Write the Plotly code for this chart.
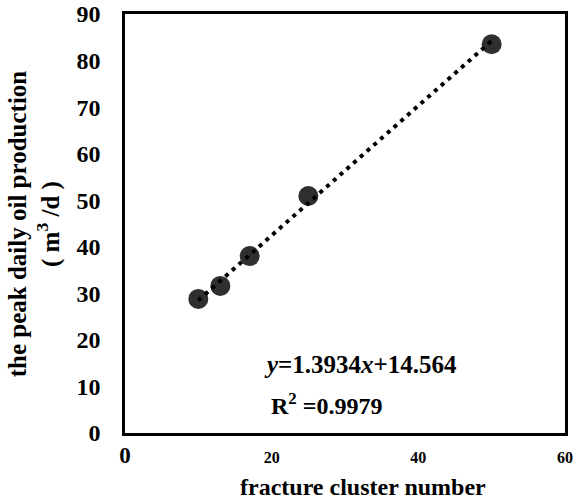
import numpy as np
import plotly.graph_objects as go

# Fracture cluster number vs. peak daily oil production
cluster_number = [10, 13, 17, 25, 50]
peak_oil = [28.8, 31.6, 38.0, 50.9, 83.5]

# Linear fit reported on the chart
SLOPE = 1.3934
INTERCEPT = 14.564
R2 = 0.9979

x_ticks = [0, 20, 40, 60]
y_ticks = [0, 10, 20, 30, 40, 50, 60, 70, 80, 90]

FONT = "Liberation Serif"

fit_x = np.array([min(cluster_number), max(cluster_number)], dtype=float)
fit_y = SLOPE * fit_x + INTERCEPT

fig = go.Figure()
fig.add_trace(go.Scatter(
    x=cluster_number, y=peak_oil, mode="markers",
    marker=dict(size=20, color="#2f2f2f", line=dict(width=0)),
    showlegend=False, hoverinfo="skip",
))
fig.add_trace(go.Scatter(
    x=fit_x, y=fit_y, mode="lines",
    line=dict(color="black", width=4, dash="4px,5px"),
    showlegend=False, hoverinfo="skip",
))

x_ticktext = ['<span style="font-size:23px">0</span>'] + [str(v) for v in x_ticks[1:]]

fig.update_layout(
    width=582, height=503,
    margin=dict(l=125, r=17, t=14, b=70, autoexpand=False),
    paper_bgcolor="white", plot_bgcolor="white",
    font=dict(family=FONT, color="black"),
    xaxis=dict(
        range=[0, 60], tickvals=x_ticks, ticktext=x_ticktext,
        automargin=False,
        showgrid=False, zeroline=False,
        showline=True, mirror=True, linecolor="black", linewidth=2.5,
        ticks="", ticklabelstandoff=8,
        tickfont=dict(family=FONT, size=16, color="black", weight="bold"),
    ),
    yaxis=dict(
        range=[0, 90], tickvals=y_ticks,
        automargin=False,
        showgrid=False, zeroline=False,
        showline=True, mirror=True, linecolor="black", linewidth=2.5,
        ticks="", ticklabelstandoff=17,
        tickfont=dict(family=FONT, size=24, color="black", weight="bold"),
    ),
    annotations=[
        dict(text="<b>fracture cluster number</b>",
             xref="paper", yref="paper", x=0.541, y=-0.128,
             xanchor="center", yanchor="middle",
             showarrow=False, font=dict(family=FONT, size=24, color="black")),
        dict(text="<b>the peak daily oil production<br>( m<sup>3</sup> /d )</b>",
             xref="paper", yref="paper", x=-0.205, y=0.5,
             xanchor="center", yanchor="middle", textangle=-90,
             showarrow=False, font=dict(family=FONT, size=25, color="black")),
        dict(text=f"<b><i>y</i>={SLOPE}<i>x</i>+{INTERCEPT}</b>",
             xref="paper", yref="paper", x=0.312, y=0.163,
             xanchor="left", yanchor="middle",
             showarrow=False, font=dict(family=FONT, size=25, color="black")),
        dict(text=f"<b>R<sup>2</sup> =0.9979</b>",
             xref="paper", yref="paper", x=0.328, y=0.07,
             xanchor="left", yanchor="middle",
             showarrow=False, font=dict(family=FONT, size=24, color="black")),
    ],
)

fig.write_html("out.html")
